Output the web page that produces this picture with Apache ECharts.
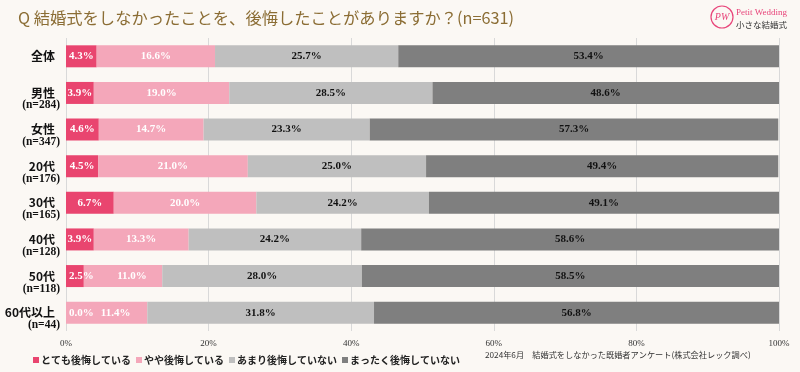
<!DOCTYPE html>
<html><head><meta charset="utf-8">
<script src="https://cdn.jsdelivr.net/npm/echarts@6/dist/echarts.min.js"></script>
<style>html,body{margin:0;padding:0;background:#fbf8f4;}#c{width:800px;height:372px;}</style>
</head><body><div id="c"></div>
<script>
const categories = ['全体','男性','女性','20代','30代','40代','50代','60代以上'];
const sampleSizes = ['', '(n=284)', '(n=347)', '(n=176)', '(n=165)', '(n=128)', '(n=118)', '(n=44)'];
const seriesNames = ['とても後悔している','やや後悔している','あまり後悔していない','まったく後悔していない'];
const veryRegret   = [4.3, 3.9, 4.6, 4.5, 6.7, 3.9, 2.5, 0.0];
const someRegret   = [16.6, 19.0, 14.7, 21.0, 20.0, 13.3, 11.0, 11.4];
const littleRegret = [25.7, 28.5, 23.3, 25.0, 24.2, 24.2, 28.0, 31.8];
const noRegret     = [53.4, 48.6, 57.3, 49.4, 49.1, 58.6, 58.5, 56.8];
const xTicks = [0, 20, 40, 60, 80, 100];
const titleText = 'Q 結婚式をしなかったことを、後悔したことがありますか？(n=631)';
const sourceText = '2024年6月\u3000結婚式をしなかった既婚者アンケート(株式会社レック調べ)';

const colors = ['#e9456f', '#f4a7ba', '#bfbfbf', '#7f7f7f'];
const labelColors = ['#ffffff', '#ffffff', '#111111', '#111111'];
const allValues = [veryRegret, someRegret, littleRegret, noRegret];

const chart = echarts.init(document.getElementById('c'));
const labelFont = {fontFamily: '"Liberation Serif", serif', fontWeight: 'bold', fontSize: 11};

const series = allValues.map((vals, si) => ({
  name: seriesNames[si],
  type: 'bar',
  stack: 'total',
  barWidth: 22,
  itemStyle: {color: colors[si]},
  label: Object.assign({show: true, position: 'inside', color: labelColors[si],
    formatter: p => p.value.toFixed(1) + '%'}, labelFont),
  data: vals.map((v, i) => {
    const item = {value: v};
    if (si === 0 && v < 3.5) item.label = {position: 'insideLeft', distance: 3};
    if (si === 1 && veryRegret[i] < 3.5) item.label = {offset: [9, 0]};
    return item;
  })
}));

chart.setOption({
  backgroundColor: '#fbf8f4',
  animation: false,
  color: colors,
  grid: {left: 66, right: 21, top: 38, bottom: 41},
  xAxis: {
    type: 'value', min: xTicks[0], max: xTicks[xTicks.length - 1], interval: 20,
    axisLine: {show: false}, axisTick: {show: false},
    splitLine: {show: true, lineStyle: {color: '#d9d9d9', width: 1}},
    axisLabel: {formatter: '{value}%', fontSize: 9, fontFamily: '"Liberation Serif", serif', color: '#333', margin: 8}
  },
  yAxis: {
    type: 'category', inverse: true, data: categories,
    axisLine: {show: false}, axisTick: {show: false},
    axisLabel: {
      interval: 0, hideOverlap: false,
      align: 'right', margin: 6,
      formatter: (v, i) => sampleSizes[i] ? '{e| }\n{name|' + v + '}\n{n|' + sampleSizes[i] + '}' : '{name|' + v + '}',
      rich: {
        e: {fontSize: 11, lineHeight: 13},
        name: {fontSize: 12, lineHeight: 12, fontWeight: 'bold', color: '#111', fontFamily: '"Noto Sans CJK JP", sans-serif', padding: [0, 5, 0, 0]},
        n: {fontSize: 11.5, lineHeight: 13, fontWeight: 'bold', color: '#111', fontFamily: '"Liberation Serif", serif'}
      }
    }
  },
  legend: {
    data: seriesNames, left: 28, top: 350, itemWidth: 6, itemHeight: 6, itemGap: 5, icon: 'rect',
    textStyle: {fontSize: 10, fontWeight: 'bold', color: '#222', fontFamily: '"Noto Sans CJK JP", sans-serif', padding: [0, 0, 0, -3]}
  },
  graphic: [
    {type: 'text', left: 18, top: 10, style: {text: titleText, fontSize: 16.3, fill: '#8b6d34', fontFamily: '"Noto Sans CJK JP", sans-serif'}},
    {type: 'text', left: 485, top: 351, style: {text: sourceText, fontSize: 8.2, fill: '#333', fontFamily: '"Noto Sans CJK JP", sans-serif'}},
    {type: 'circle', shape: {cx: 722, cy: 17, r: 11}, style: {fill: 'none', stroke: '#e8457a', lineWidth: 1.2}},
    {type: 'text', x: 722, y: 17, style: {text: 'PW', fontSize: 10, fontStyle: 'italic', fill: '#e8457a', fontFamily: '"Liberation Serif", serif', align: 'center', verticalAlign: 'middle'}},
    {type: 'text', x: 736, y: 13, style: {text: 'Petit Wedding', fontSize: 9, fill: '#e8457a', fontFamily: '"Liberation Serif", serif', verticalAlign: 'middle'}},
    {type: 'text', x: 736, y: 25, style: {text: '小さな結婚式', fontSize: 8.5, fill: '#333', fontFamily: '"Noto Sans CJK JP", sans-serif', verticalAlign: 'middle'}}
  ],
  series: series
});
</script>
</body></html>
